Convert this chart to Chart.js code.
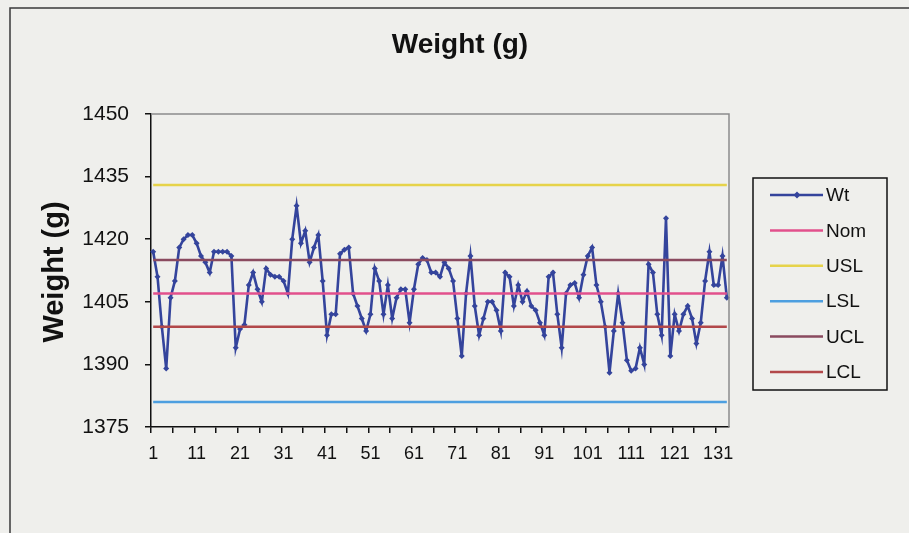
<!DOCTYPE html>
<html>
<head>
<meta charset="utf-8">
<script src="https://cdn.jsdelivr.net/npm/chart.js@4/dist/chart.umd.min.js"></script>
<style>
  html, body { margin: 0; padding: 0; background: #efefec; }
  canvas { display: block; }
</style>
</head>
<body>
<canvas id="chart" width="909" height="533"></canvas>
<script>
// Individual sample weights (g), in production order
const weights = [
  1417, 1411, 1399, 1389, 1406, 1410, 1418, 1420, 1421, 1421,
  1419, 1416, 1414.5, 1412, 1417, 1417, 1417, 1417, 1416, 1394,
  1398.5, 1399.5, 1409, 1412, 1408, 1405, 1413, 1411.5, 1411, 1411,
  1410, 1407, 1420, 1428, 1419, 1422, 1414.5, 1418, 1421, 1410,
  1397, 1402, 1402, 1416.5, 1417.5, 1418, 1407, 1404, 1401, 1398,
  1402, 1413, 1410, 1402, 1409, 1401, 1406, 1408, 1408, 1400,
  1408, 1414, 1415.5, 1415, 1412, 1412, 1411, 1414.5, 1413, 1410,
  1401, 1392, 1407, 1416, 1404, 1397, 1401, 1405, 1405, 1403,
  1398, 1412, 1411, 1404, 1409, 1405, 1407.5, 1404, 1403, 1400,
  1397, 1411, 1412, 1402, 1394, 1407, 1409, 1409.5, 1406, 1411.5,
  1416, 1418, 1409, 1405, 1399, 1388, 1398, 1407, 1400, 1391,
  1388.5, 1389, 1394, 1390, 1414, 1412, 1402, 1397, 1425, 1392,
  1402, 1398, 1402, 1404, 1401, 1395, 1400, 1410, 1417, 1409,
  1409, 1416, 1406
];
// Sample numbers along the x axis
const sampleLabels = weights.map((_, i) => String(i + 1));

// Specification and control limits (g)
const NOM = 1407;
const USL = 1433;
const LSL = 1381;
const UCL = 1415;
const LCL = 1399;

// Value axis ticks
const yTicks = [1375, 1390, 1405, 1420, 1435, 1450];

const FONT = '"Liberation Sans", Arial, sans-serif';

// A limit runs from the first sample to the last one
function limitLine(value) {
  return [
    { x: sampleLabels[0], y: value },
    { x: sampleLabels[sampleLabels.length - 1], y: value }
  ];
}

const seriesStyle = [
  { label: 'Wt',  color: '#34449c' },
  { label: 'Nom', color: '#e2508c' },
  { label: 'USL', color: '#e6d34a' },
  { label: 'LSL', color: '#4d9fe0' },
  { label: 'UCL', color: '#8a4a5f' },
  { label: 'LCL', color: '#b2484a' }
];

const limitValues = { Nom: NOM, USL: USL, LSL: LSL, UCL: UCL, LCL: LCL };

const datasets = [
  {
    label: 'Wt',
    data: weights,
    borderColor: seriesStyle[0].color,
    backgroundColor: seriesStyle[0].color,
    borderWidth: 2.6,
    pointStyle: 'rectRot',
    pointRadius: 3,
    pointBorderWidth: 0,
    tension: 0,
    order: 1
  }
].concat(seriesStyle.slice(1).map(s => ({
  label: s.label,
  data: limitLine(limitValues[s.label]),
  borderColor: s.color,
  backgroundColor: s.color,
  borderWidth: 2.5,
  pointRadius: 0,
  tension: 0,
  order: 0
})));

const decor = {
  id: 'decor',
  beforeDraw(chart) {
    const ctx = chart.ctx;
    ctx.save();
    ctx.fillStyle = '#efefec';
    ctx.fillRect(0, 0, chart.width, chart.height);
    ctx.restore();
  },
  afterDraw(chart) {
    const ctx = chart.ctx;
    const a = chart.chartArea;
    ctx.save();

    // plot area frame (top and right edges)
    ctx.strokeStyle = '#8c8c8c';
    ctx.lineWidth = 1.5;
    ctx.beginPath();
    ctx.moveTo(a.left, a.top);
    ctx.lineTo(a.right, a.top);
    ctx.lineTo(a.right, a.bottom);
    ctx.stroke();

    // outer chart frame
    ctx.strokeStyle = '#3a3a3a';
    ctx.lineWidth = 1.5;
    ctx.beginPath();
    ctx.moveTo(10, chart.height);
    ctx.lineTo(10, 8);
    ctx.lineTo(chart.width, 8);
    ctx.stroke();

    // chart title
    ctx.fillStyle = '#111';
    ctx.font = 'bold 28px ' + FONT;
    ctx.textAlign = 'center';
    ctx.textBaseline = 'alphabetic';
    ctx.fillText('Weight (g)', 460, 53);

    // value axis title
    ctx.save();
    ctx.translate(63, 272);
    ctx.rotate(-Math.PI / 2);
    ctx.font = 'bold 29px ' + FONT;
    ctx.fillText('Weight (g)', 0, 0);
    ctx.restore();

    // legend
    const lx = 753, ly = 178, lw = 134, lh = 212;
    ctx.strokeStyle = '#111';
    ctx.lineWidth = 1.5;
    ctx.strokeRect(lx, ly, lw, lh);
    ctx.font = '19px ' + FONT;
    ctx.textAlign = 'left';
    ctx.textBaseline = 'middle';
    chart.data.datasets.forEach((ds, i) => {
      const y = 195 + i * 35.4;
      ctx.strokeStyle = ds.borderColor;
      ctx.lineWidth = 2.5;
      ctx.beginPath();
      ctx.moveTo(770, y);
      ctx.lineTo(823, y);
      ctx.stroke();
      if (ds.pointRadius > 0) {
        ctx.fillStyle = ds.borderColor;
        ctx.beginPath();
        ctx.moveTo(797, y - 3.5);
        ctx.lineTo(800.5, y);
        ctx.lineTo(797, y + 3.5);
        ctx.lineTo(793.5, y);
        ctx.closePath();
        ctx.fill();
      }
      ctx.fillStyle = '#111';
      ctx.fillText(ds.label, 826, y + 1);
    });

    ctx.restore();
  }
};

new Chart(document.getElementById('chart'), {
  type: 'line',
  data: { labels: sampleLabels, datasets: datasets },
  options: {
    responsive: false,
    animation: false,
    devicePixelRatio: 1,
    layout: { padding: { left: 10, top: 114, right: 180, bottom: 0 } },
    plugins: {
      legend: { display: false },
      title: { display: false },
      tooltip: { enabled: false }
    },
    scales: {
      x: {
        type: 'category',
        offset: true,
        afterFit(scale) { scale.height = 106; },
        grid: {
          offset: true,
          drawOnChartArea: false,
          drawTicks: true,
          tickLength: 6,
          lineWidth: 1.5,
          color: ctx => (ctx.index % 5 === 0 ? '#111' : 'rgba(0,0,0,0)')
        },
        border: { display: true, color: '#111', width: 1.5 },
        ticks: {
          autoSkip: false,
          maxRotation: 0,
          minRotation: 0,
          padding: 10,
          color: '#111',
          font: { family: FONT, size: 18 },
          callback: (value, index) => (index % 10 === 0 ? sampleLabels[index] : '')
        }
      },
      y: {
        min: 1375,
        max: 1450,
        afterFit(scale) { scale.width = 141; },
        afterBuildTicks(scale) { scale.ticks = yTicks.map(v => ({ value: v })); },
        grid: {
          drawOnChartArea: false,
          drawTicks: true,
          tickLength: 6,
          lineWidth: 1.5,
          color: '#111'
        },
        border: { display: true, color: '#111', width: 1.5 },
        ticks: {
          padding: 16,
          color: '#111',
          font: { family: FONT, size: 21 },
          callback: value => String(value)
        }
      }
    }
  },
  plugins: [decor]
});
</script>
</body>
</html>
